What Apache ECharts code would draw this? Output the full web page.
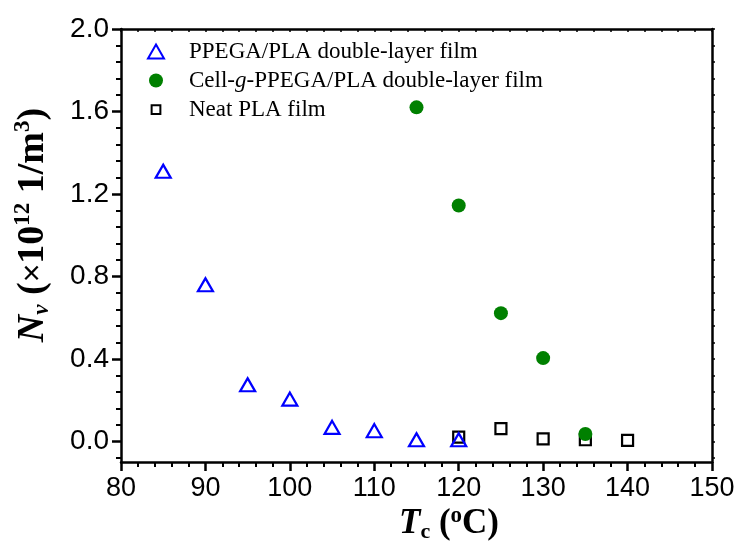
<!DOCTYPE html>
<html>
<head>
<meta charset="utf-8">
<script src="https://cdn.jsdelivr.net/npm/echarts@6/dist/echarts.min.js"></script>
<style>
  html, body { margin: 0; padding: 0; background: #fff; }
  #chart { width: 739px; height: 549px; }
</style>
</head>
<body>
<div id="chart"></div>
<script>
// crystallization temperature (C) and cell density (x10^12 1/m^3)
const tempPPEGA = [85, 90, 95, 100, 105, 110, 115, 120]
const nvPPEGA = [1.31, 0.76, 0.275, 0.205, 0.068, 0.052, 0.008, 0.008]
const tempCell = [115, 120, 125, 130, 135]
const nvCell = [1.62, 1.144, 0.622, 0.404, 0.036]
const tempNeat = [120, 125, 130, 135, 140]
const nvNeat = [0.021, 0.062, 0.012, 0.008, 0.005]

const seriesNames = ['PPEGA/PLA double-layer film', 'Cell-g-PPEGA/PLA double-layer film', 'Neat PLA film']
const yMajorTicks = [0, 0.4, 0.8, 1.2, 1.6, 2.0]
const yMinorTicks = []
const yAllTicks = []
for (let k = -1; k <= 25; k++) {
  const v = +(k * 0.08).toFixed(2)
  yAllTicks.push(v)
  if (k % 5 !== 0) yMinorTicks.push(v)
}

const pairs = (xs, ys) => xs.map((x, i) => [x, ys[i]])
const serif = 'Liberation Serif, Times New Roman, serif'
const sans = 'Liberation Sans, Arial, sans-serif'
const black = '#000'

const chart = echarts.init(document.getElementById('chart'))
chart.setOption({
  animation: false,
  backgroundColor: '#fff',
  grid: {left: 121, right: 27, top: 29, bottom: 87},
  legend: {
    orient: 'vertical',
    left: 142,
    top: 35,
    itemWidth: 16,
    itemHeight: 14,
    itemGap: 6,
    selectedMode: false,
    data: [
      {name: seriesNames[0]},
      {name: seriesNames[1]},
      // smaller square icon, like the reference
      {name: seriesNames[2], icon: 'path://M3,3L13,3L13,13L3,13Z M0,0L0,0 M16,16L16,16'}
    ],
    formatter: name => {
      if (name.indexOf('Cell-g-') === 0) return '{t|Cell-}{i|g}{t|' + name.slice(6) + '}'
      return '{t|' + name + '}'
    },
    textStyle: {
      rich: {
        t: {fontFamily: serif, fontSize: 23, color: black, lineHeight: 22},
        i: {fontFamily: serif, fontSize: 23, fontStyle: 'italic', color: black, lineHeight: 22}
      },
      padding: [0, 0, 0, 20]
    }
  },
  xAxis: [
    {
      type: 'value', min: 80, max: 150, interval: 10, position: 'bottom',
      axisLine: {show: true, onZero: false, lineStyle: {color: black, width: 2.5}},
      axisTick: {show: true, length: 9, lineStyle: {color: black, width: 2.5}},
      minorTick: {show: true, splitNumber: 5, length: 5, lineStyle: {color: black, width: 2}},
      axisLabel: {fontFamily: sans, fontSize: 27, color: black, margin: 13},
      splitLine: {show: false}, minorSplitLine: {show: false}
    },
    {
      type: 'value', min: 80, max: 150, interval: 2, position: 'top',
      axisLine: {show: true, onZero: false, lineStyle: {color: black, width: 2.5}},
      axisTick: {show: true, inside: true, length: 3, lineStyle: {color: black, width: 1.5}},
      axisLabel: {show: false}, splitLine: {show: false}
    }
  ],
  yAxis: [
    {
      type: 'value', min: -0.1, max: 2.0, position: 'left',
      axisLine: {show: true, onZero: false, lineStyle: {color: black, width: 2.5}},
      axisTick: {show: true, customValues: yMajorTicks, length: 9, lineStyle: {color: black, width: 2.5}},
      axisLabel: {customValues: yMajorTicks, fontFamily: sans, fontSize: 28, color: black, margin: 12,
        formatter: v => v.toFixed(1)},
      splitLine: {show: false}
    },
    {
      type: 'value', min: -0.1, max: 2.0, position: 'left',
      axisLine: {show: false, onZero: false},
      axisTick: {show: true, customValues: yMinorTicks, length: 5, lineStyle: {color: black, width: 2}},
      axisLabel: {show: false}, splitLine: {show: false}
    },
    {
      type: 'value', min: -0.1, max: 2.0, position: 'right',
      axisLine: {show: true, onZero: false, lineStyle: {color: black, width: 2.5}},
      axisTick: {show: true, customValues: yAllTicks, length: 3, lineStyle: {color: black, width: 1.5}},
      axisLabel: {show: false}, splitLine: {show: false}
    }
  ],
  series: [
    {
      name: seriesNames[2], type: 'scatter', z: 2,
      data: pairs(tempNeat, nvNeat),
      symbol: 'rect', symbolSize: 11,
      itemStyle: {color: 'transparent', borderColor: black, borderWidth: 2.2, opacity: 1}
    },
    {
      name: seriesNames[0], type: 'scatter', z: 3,
      data: pairs(tempPPEGA, nvPPEGA),
      symbol: 'triangle', symbolSize: [15, 13],
      itemStyle: {color: 'transparent', borderColor: '#0000ff', borderWidth: 2.2, opacity: 1}
    },
    {
      name: seriesNames[1], type: 'scatter', z: 4,
      data: pairs(tempCell, nvCell),
      symbol: 'circle', symbolSize: 14,
      itemStyle: {color: '#008000', opacity: 1}
    }
  ],
  graphic: [
    {
      type: 'text', x: 33, y: 225, rotation: Math.PI / 2,
      style: {
        text: '{ni|N}{sub|v}{b| (}{x|×}{b|10}{sup|12}{b| 1/m}{sup|3}{b|)}',
        align: 'center', verticalAlign: 'middle',
        rich: {
          ni: {fontFamily: serif, fontWeight: 'bold', fontStyle: 'italic', fontSize: 38, lineHeight: 42, verticalAlign: 'middle'},
          sub: {fontFamily: serif, fontWeight: 'bold', fontStyle: 'italic', fontSize: 23, lineHeight: 34, verticalAlign: 'bottom'},
          b: {fontFamily: serif, fontWeight: 'bold', fontSize: 38, lineHeight: 42, verticalAlign: 'middle'},
          x: {fontFamily: sans, fontSize: 32, lineHeight: 42, verticalAlign: 'middle'},
          sup: {fontFamily: serif, fontWeight: 'bold', fontSize: 23, lineHeight: 28, verticalAlign: 'top'}
        }
      }
    },
    {
      type: 'text', x: 449, y: 524,
      style: {
        text: '{ti|T}{sub|c}{b| (}{sup|o}{b|C)}',
        align: 'center', verticalAlign: 'middle',
        rich: {
          ti: {fontFamily: serif, fontWeight: 'bold', fontStyle: 'italic', fontSize: 35, lineHeight: 38, verticalAlign: 'middle'},
          sub: {fontFamily: serif, fontWeight: 'bold', fontSize: 22, lineHeight: 28, verticalAlign: 'bottom'},
          b: {fontFamily: serif, fontWeight: 'bold', fontSize: 35, lineHeight: 38, verticalAlign: 'middle'},
          sup: {fontFamily: serif, fontWeight: 'bold', fontSize: 23, lineHeight: 26, verticalAlign: 'top'}
        }
      }
    }
  ]
})
</script>
</body>
</html>
